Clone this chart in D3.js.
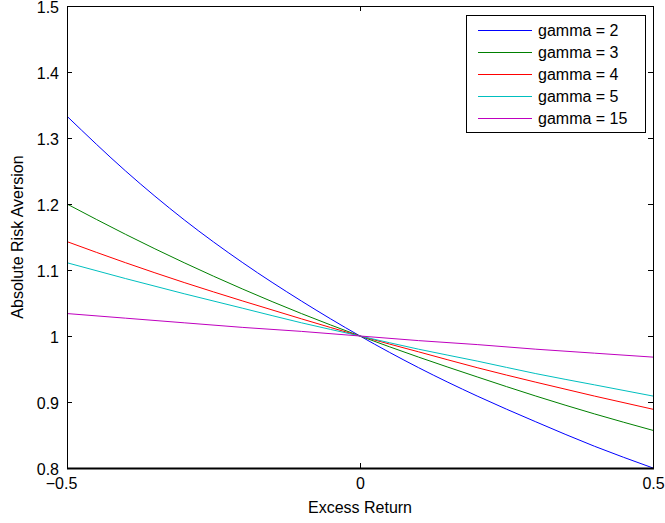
<!DOCTYPE html>
<html>
<head>
<meta charset="utf-8">
<script src="https://cdn.jsdelivr.net/npm/d3@7"></script>
<style>
  html, body { margin: 0; padding: 0; background: #fff; }
  svg { display: block; font-family: "Liberation Sans", Arial, Helvetica, sans-serif; }
</style>
</head>
<body>
<svg id="chart" width="665" height="523"></svg>
<script>
// Excess return grid and absolute risk aversion for each gamma
const excessReturn = [-0.5, -0.4, -0.3, -0.2, -0.1, 0, 0.1, 0.2, 0.3, 0.4, 0.5];
const gammaLabels = ["gamma = 2", "gamma = 3", "gamma = 4", "gamma = 5", "gamma = 15"];
const gamma2  = [1.333, 1.250, 1.176, 1.111, 1.053, 1.000, 0.952, 0.909, 0.870, 0.833, 0.800];
const gamma3  = [1.200, 1.154, 1.111, 1.071, 1.034, 1.000, 0.968, 0.938, 0.909, 0.882, 0.857];
const gamma4  = [1.143, 1.111, 1.081, 1.053, 1.026, 1.000, 0.976, 0.952, 0.930, 0.909, 0.889];
const gamma5  = [1.111, 1.087, 1.064, 1.042, 1.020, 1.000, 0.980, 0.962, 0.943, 0.926, 0.909];
const gamma15 = [1.034, 1.027, 1.020, 1.013, 1.007, 1.000, 0.993, 0.987, 0.980, 0.974, 0.968];
const seriesValues = [gamma2, gamma3, gamma4, gamma5, gamma15];
const seriesColors = ["#0000ff", "#008000", "#ff0000", "#00bfbf", "#bf00bf"];
const xTicks = [-0.5, 0, 0.5];
const yTicks = [0.8, 0.9, 1.0, 1.1, 1.2, 1.3, 1.4, 1.5];

const svg = d3.select("#chart");
const m = { left: 67, right: 12, top: 6, bottom: 55 };
const W = 665, H = 523;
const pw = W - m.left - m.right, ph = H - m.top - m.bottom;

const x = d3.scaleLinear().domain([-0.5, 0.5]).range([0, pw]);
const y = d3.scaleLinear().domain([0.8, 1.5]).range([ph, 0]);

const g = svg.append("g").attr("transform", `translate(${m.left},${m.top})`);

const fmtY = v => (v === 1 ? "1" : d3.format(".1f")(v));
const fmtX = v => (v === 0 ? "0" : d3.format(".1f")(v).replace("-", "\u2013"));

// Series lines (clipped to the plot area)
svg.append("defs").append("clipPath").attr("id", "clip")
  .append("rect").attr("width", pw).attr("height", ph);

const line = d3.line()
  .x((d, i) => x(excessReturn[i]))
  .y(d => y(d))
  .curve(d3.curveMonotoneX);

const plot = g.append("g").attr("clip-path", "url(#clip)");
seriesValues.forEach((vals, k) => {
  plot.append("path")
    .datum(vals)
    .attr("fill", "none")
    .attr("stroke", seriesColors[k])
    .attr("stroke-width", 1)
    .attr("d", line);
});

// Axes: ticks pointing inward on all four sides
const tickLen = 5;
const styleAxis = sel => {
  sel.select(".domain").remove();
  sel.selectAll("line").attr("stroke", "#000");
  sel.selectAll("text").attr("fill", "#000").attr("font-size", 16);
};

g.append("g").attr("transform", `translate(0,${ph})`)
  .call(d3.axisBottom(x).tickValues(xTicks).tickSize(-tickLen).tickPadding(10).tickFormat(fmtX))
  .call(styleAxis)
  .call(s => s.selectAll("text").attr("dy", "0.71em")
    .attr("dx", d => (d < 0 ? -6 : 0)));

g.append("g")
  .call(d3.axisTop(x).tickValues(xTicks).tickSize(-tickLen).tickFormat(""))
  .call(styleAxis);

g.append("g")
  .call(d3.axisLeft(y).tickValues(yTicks).tickSize(-tickLen).tickPadding(8).tickFormat(fmtY))
  .call(styleAxis)
  .call(s => s.selectAll("text").attr("dy", "0.42em"));

g.append("g").attr("transform", `translate(${pw},0)`)
  .call(d3.axisRight(y).tickValues(yTicks).tickSize(-tickLen).tickFormat(""))
  .call(styleAxis);

// Plot box
g.append("rect")
  .attr("x", 0.5).attr("y", 0.5)
  .attr("width", pw).attr("height", ph)
  .attr("fill", "none").attr("stroke", "#000").attr("stroke-width", 1);
g.append("line")
  .attr("x1", 0).attr("x2", pw + 1).attr("y1", ph + 0.5).attr("y2", ph + 0.5)
  .attr("stroke", "#000").attr("stroke-width", 2);

// Axis titles
svg.append("text")
  .attr("x", m.left + pw / 2).attr("y", 513)
  .attr("text-anchor", "middle").attr("font-size", 16)
  .text("Excess Return");

svg.append("text")
  .attr("transform", `translate(23,${m.top + ph / 2}) rotate(-90)`)
  .attr("text-anchor", "middle").attr("font-size", 16)
  .text("Absolute Risk Aversion");

// Legend
const lg = svg.append("g").attr("transform", "translate(466,15)");
lg.append("rect")
  .attr("x", 0.5).attr("y", 0.5).attr("width", 179).attr("height", 117)
  .attr("fill", "#fff").attr("stroke", "#000").attr("stroke-width", 1);
gammaLabels.forEach((lab, k) => {
  const cy = 15 + k * 22;
  lg.append("line")
    .attr("x1", 12).attr("x2", 66).attr("y1", cy + 0.5).attr("y2", cy + 0.5)
    .attr("stroke", seriesColors[k]).attr("stroke-width", 1);
  lg.append("text")
    .attr("x", 72).attr("y", cy).attr("dy", "0.35em")
    .attr("font-size", 16).text(lab);
});
</script>
</body>
</html>
